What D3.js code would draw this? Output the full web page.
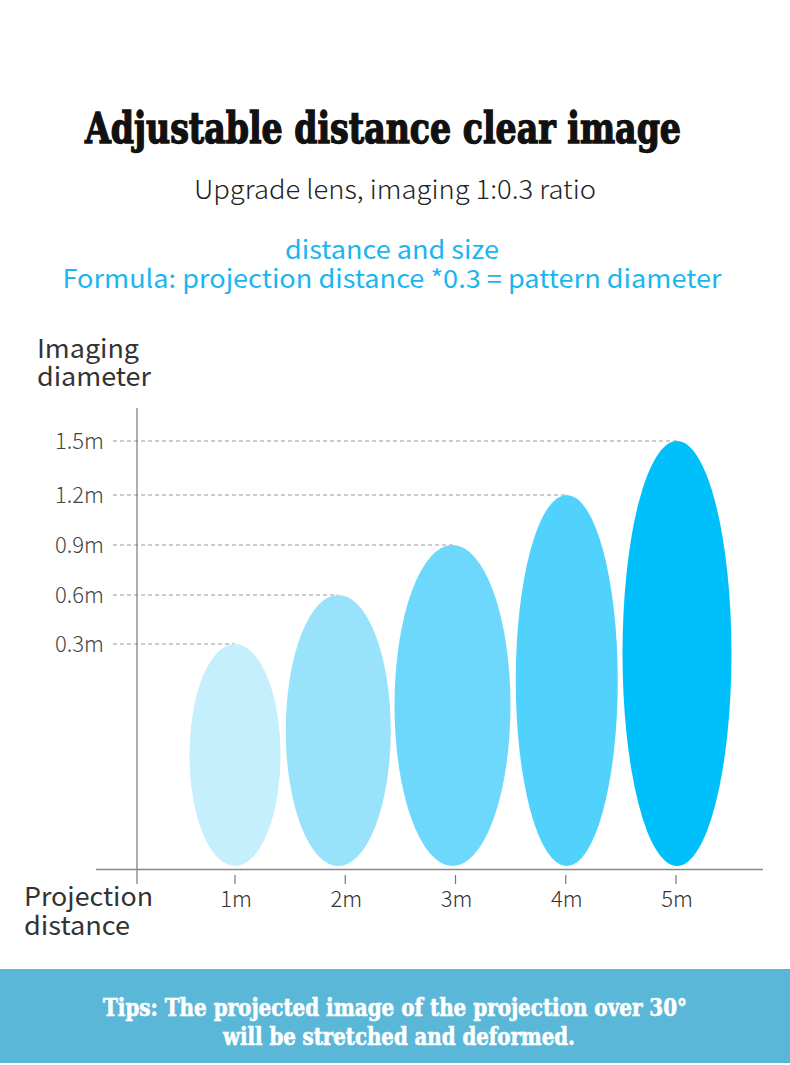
<!DOCTYPE html>
<html>
<head>
<meta charset="utf-8">
<script src="https://cdn.jsdelivr.net/npm/d3@7"></script>
<style>
  html, body { margin: 0; padding: 0; background: #fff; }
  svg { display: block; }
</style>
</head>
<body>
<svg id="chart" width="790" height="1065"></svg>
<script>
// ---- data ----
const distances = [1, 2, 3, 4, 5];
const distanceLabels = ["1m", "2m", "3m", "4m", "5m"];
const diameters = [0.3, 0.6, 0.9, 1.2, 1.5];
const yTicks = [0.3, 0.6, 0.9, 1.2, 1.5];
const yTickLabels = ["0.3m", "0.6m", "0.9m", "1.2m", "1.5m"];
const colors = ["#c6effd", "#98e3fb", "#6dd8fb", "#50d2fd", "#00c0fc"];

const title = "Adjustable distance clear image";
const subtitle = "Upgrade lens, imaging 1:0.3 ratio";
const blueLines = ["distance and size", "Formula: projection distance *0.3 = pattern diameter"];
const yTitle = ["Imaging", "diameter"];
const xTitle = ["Projection", "distance"];
const tips = ["Tips: The projected image of the projection over 30°", "will be stretched and deformed."];

// ---- layout ----
const svg = d3.select("#chart");
const W = 790;
const baseY = 866;
const sans = "'Noto Sans CJK SC', 'Noto Sans', sans-serif";
const heavy = "'DejaVu Serif Condensed', 'DejaVu Serif', serif";

const x = d3.scaleLinear().domain([1, 5]).range([235, 676]);
const y = d3.scaleLinear().domain(yTicks).range([644, 595, 545, 495, 441]);
const shapeW = [91, 105, 116, 102, 109];
const shapeDx = [0, -7, -3, 1, 1];

// headings
svg.append("text").attr("x", 383).attr("y", 143).attr("text-anchor", "middle")
  .attr("font-family", heavy).attr("font-weight", "bold").attr("font-size", 42)
  .attr("fill", "#111").attr("stroke", "#111").attr("stroke-width", 1.3)
  .attr("textLength", 596).attr("lengthAdjust", "spacingAndGlyphs")
  .text(title);

svg.append("text").attr("x", 395).attr("y", 199).attr("text-anchor", "middle")
  .attr("font-family", sans).attr("font-weight", 300).attr("font-size", 26)
  .attr("fill", "#222").attr("textLength", 402).attr("lengthAdjust", "spacingAndGlyphs")
  .text(subtitle);

svg.append("text").attr("x", 392).attr("y", 259).attr("text-anchor", "middle")
  .attr("font-family", sans).attr("font-size", 25).attr("fill", "#1bb5ef")
  .attr("textLength", 214).attr("lengthAdjust", "spacingAndGlyphs")
  .text(blueLines[0]);
svg.append("text").attr("x", 392).attr("y", 288).attr("text-anchor", "middle")
  .attr("font-family", sans).attr("font-size", 25).attr("fill", "#1bb5ef")
  .attr("textLength", 659).attr("lengthAdjust", "spacingAndGlyphs")
  .text(blueLines[1]);

// axis titles
const yTitleLen = [102, 114];
const xTitleLen = [129, 106];
yTitle.forEach((t, i) => {
  svg.append("text").attr("x", 37).attr("y", 358 + i * 28)
    .attr("font-family", sans).attr("font-size", 26).attr("fill", "#333")
    .attr("textLength", yTitleLen[i]).attr("lengthAdjust", "spacingAndGlyphs").text(t);
});
xTitle.forEach((t, i) => {
  svg.append("text").attr("x", 24).attr("y", 906 + i * 29)
    .attr("font-family", sans).attr("font-size", 26).attr("fill", "#333")
    .attr("textLength", xTitleLen[i]).attr("lengthAdjust", "spacingAndGlyphs").text(t);
});

// gridlines to ellipse tops
const g = svg.append("g");
diameters.forEach((d, i) => {
  g.append("line")
    .attr("x1", 113).attr("x2", x(distances[i]) + shapeDx[i])
    .attr("y1", y(d)).attr("y2", y(d))
    .attr("stroke", "#999").attr("stroke-width", 1).attr("stroke-dasharray", "4,3");
});

// y tick labels
g.selectAll("text.ytick").data(yTicks).join("text").attr("class", "ytick")
  .attr("x", 104).attr("y", d => y(d)).attr("dy", "0.35em").attr("text-anchor", "end")
  .attr("font-family", sans).attr("font-weight", 300).attr("font-size", 22).attr("fill", "#444")
  .text((d, i) => yTickLabels[i]);

// ellipses
svg.append("g").selectAll("ellipse").data(diameters).join("ellipse")
  .attr("cx", (d, i) => x(distances[i]) + shapeDx[i])
  .attr("cy", d => (y(d) + baseY) / 2)
  .attr("rx", (d, i) => shapeW[i] / 2)
  .attr("ry", d => (baseY - y(d)) / 2)
  .attr("fill", (d, i) => colors[i]);

// axes lines
svg.append("line").attr("x1", 137).attr("x2", 137).attr("y1", 408).attr("y2", 884)
  .attr("stroke", "#777").attr("stroke-width", 1.2);
svg.append("line").attr("x1", 96).attr("x2", 763).attr("y1", 869.5).attr("y2", 869.5)
  .attr("stroke", "#888").attr("stroke-width", 1.6);

// x ticks
const xt = svg.append("g");
xt.selectAll("line").data(distances).join("line")
  .attr("x1", d => x(d)).attr("x2", d => x(d)).attr("y1", 875).attr("y2", 884)
  .attr("stroke", "#777").attr("stroke-width", 1.2);
xt.selectAll("text").data(distances).join("text")
  .attr("x", d => x(d) + 1).attr("y", 907).attr("text-anchor", "middle")
  .attr("font-family", sans).attr("font-weight", 300).attr("font-size", 22).attr("fill", "#333")
  .text((d, i) => distanceLabels[i]);

// tips banner
svg.append("rect").attr("x", 0).attr("y", 969).attr("width", W).attr("height", 94)
  .attr("fill", "#5bb7d8");
svg.append("text").attr("x", 395).attr("y", 1016).attr("text-anchor", "middle")
  .attr("font-family", heavy).attr("font-weight", "bold").attr("font-size", 24)
  .attr("fill", "#fff").attr("stroke", "#fff").attr("stroke-width", 0.6)
  .attr("textLength", 584).attr("lengthAdjust", "spacingAndGlyphs")
  .text(tips[0]);
svg.append("text").attr("x", 399).attr("y", 1045).attr("text-anchor", "middle")
  .attr("font-family", heavy).attr("font-weight", "bold").attr("font-size", 24)
  .attr("fill", "#fff").attr("stroke", "#fff").attr("stroke-width", 0.6)
  .attr("textLength", 352).attr("lengthAdjust", "spacingAndGlyphs")
  .text(tips[1]);
</script>
</body>
</html>
